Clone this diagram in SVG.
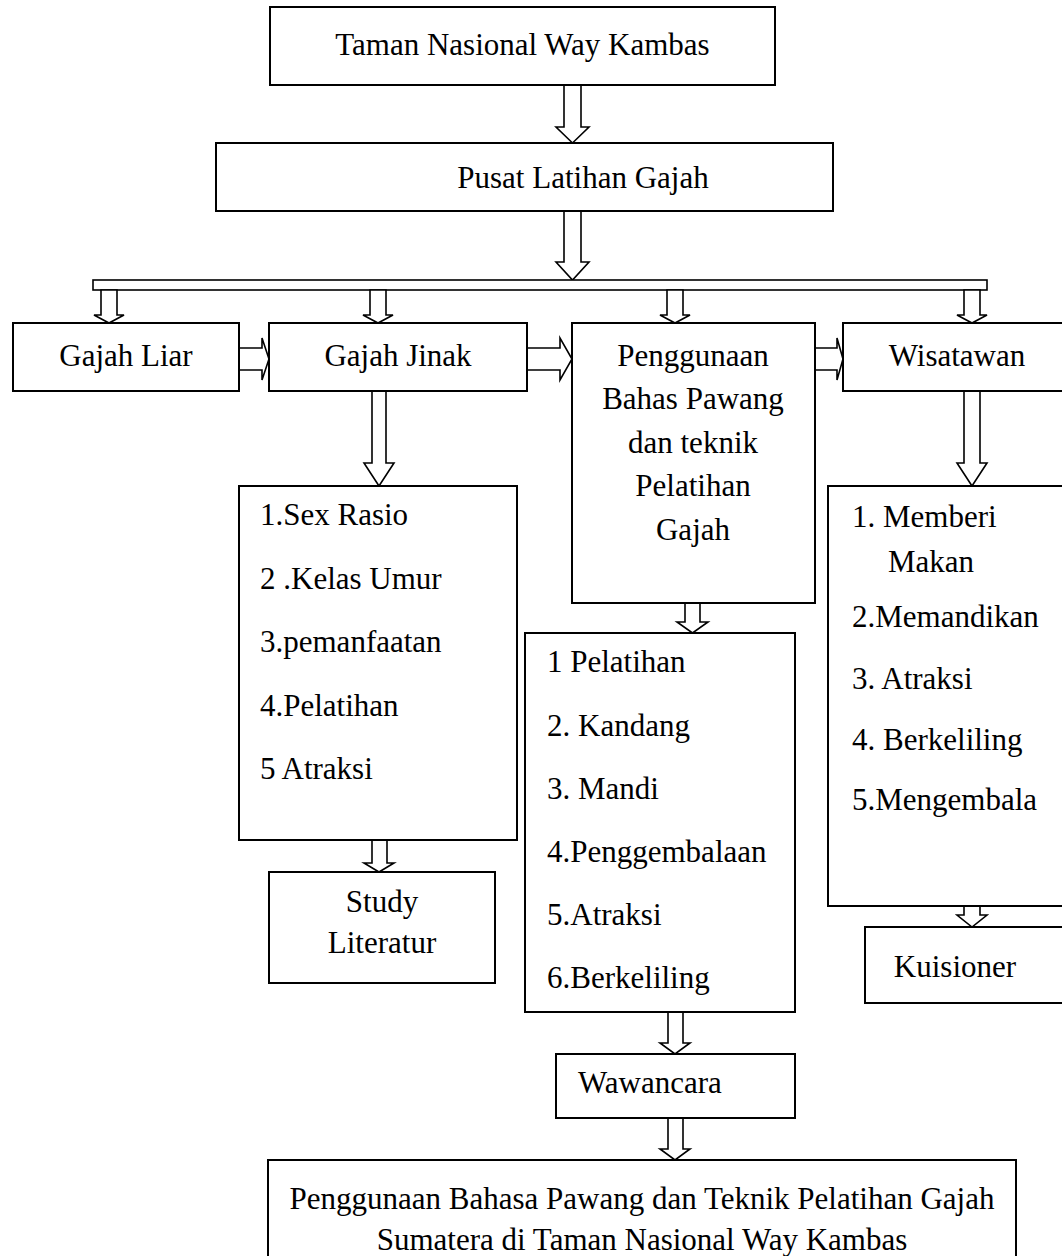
<svg xmlns="http://www.w3.org/2000/svg" width="1062" height="1256" viewBox="0 0 1062 1256">
<style>
.b{fill:#fff;stroke:#000;stroke-width:2}
.a{fill:#fff;stroke:#000;stroke-width:1.6;stroke-linejoin:miter}
text{font-family:"Liberation Serif","Times New Roman",serif;font-size:31px;fill:#000}
.c{text-anchor:middle}
</style>
<rect width="1062" height="1256" fill="#fff"/>
<g id="connectors">
<path class="a" d="M564,85 V127 H556 L572.5,143 L589,127 H581 V85 Z"/>
<path class="a" d="M564,211 V262 H556 L572.5,280 L589,262 H581 V211 Z"/>
<rect class="a" x="93" y="280" width="894" height="10"/>
<path class="a" d="M101,290 V315 H94 L109,323 L124,315 H117 V290 Z"/>
<path class="a" d="M370,290 V315 H363 L378,323 L393,315 H386 V290 Z"/>
<path class="a" d="M667,290 V315 H660 L675,323 L690,315 H683 V290 Z"/>
<path class="a" d="M964,290 V315 H957 L972,323 L987,315 H980 V290 Z"/>
<path class="a" d="M239,348 H262 V338 L269,359 L262,380 V370 H239 Z"/>
<path class="a" d="M527,348 H560 V338 L572,359 L560,380 V370 H527 Z"/>
<path class="a" d="M815,348 H837 V338 L843,359 L837,380 V370 H815 Z"/>
<path class="a" d="M372,391 V463 H364 L379,486 L394,463 H386 V391 Z"/>
<path class="a" d="M964,391 V463 H957 L972,486 L987,463 H980 V391 Z"/>
<path class="a" d="M372,840 V863 H364 L379,872 L394,863 H387 V840 Z"/>
<path class="a" d="M685,603 V622 H677 L692.5,633 L708,622 H700 V603 Z"/>
<path class="a" d="M668,1012 V1043 H660 L675,1054 L690,1043 H683 V1012 Z"/>
<path class="a" d="M668,1118 V1149 H660 L675,1160 L690,1149 H683 V1118 Z"/>
<path class="a" d="M964,906 V915 H957 L972,927 L987,915 H980 V906 Z"/>
</g>
<g id="n-top"><rect class="b" x="270" y="7" width="505" height="78"/><text class="c" x="522.5" y="55">Taman Nasional Way Kambas</text></g>
<g id="n-pusat"><rect class="b" x="216" y="143" width="617" height="68"/><text class="c" x="583" y="188">Pusat Latihan Gajah</text></g>
<g id="n-liar"><rect class="b" x="13" y="323" width="226" height="68"/><text class="c" x="126" y="366">Gajah Liar</text></g>
<g id="n-jinak"><rect class="b" x="269" y="323" width="258" height="68"/><text class="c" x="398" y="366">Gajah Jinak</text></g>
<g id="n-pengg"><rect class="b" x="572" y="323" width="243" height="280"/>
<text class="c" x="693" y="366">Penggunaan</text>
<text class="c" x="693" y="409">Bahas Pawang</text>
<text class="c" x="693" y="453">dan teknik</text>
<text class="c" x="693" y="496">Pelatihan</text>
<text class="c" x="693" y="540">Gajah</text></g>
<g id="n-wis"><rect class="b" x="843" y="323" width="230" height="68"/><text class="c" x="957" y="366">Wisatawan</text></g>
<g id="n-jinaklist"><rect class="b" x="239" y="486" width="278" height="354"/>
<text x="260" y="525">1.Sex Rasio</text>
<text x="260" y="589">2 .Kelas Umur</text>
<text x="260" y="652">3.pemanfaatan</text>
<text x="260" y="716">4.Pelatihan</text>
<text x="260" y="779">5 Atraksi</text></g>
<g id="n-study"><rect class="b" x="269" y="872" width="226" height="111"/>
<text class="c" x="382" y="912">Study</text>
<text class="c" x="382" y="953">Literatur</text></g>
<g id="n-list2"><rect class="b" x="525" y="633" width="270" height="379"/>
<text x="547" y="672">1 Pelatihan</text>
<text x="547" y="736">2. Kandang</text>
<text x="547" y="799">3. Mandi</text>
<text x="547" y="862">4.Penggembalaan</text>
<text x="547" y="925">5.Atraksi</text>
<text x="547" y="988">6.Berkeliling</text></g>
<g id="n-wawancara"><rect class="b" x="556" y="1054" width="239" height="64"/><text x="578" y="1093">Wawancara</text></g>
<g id="n-wislist"><rect class="b" x="828" y="486" width="245" height="420"/>
<text x="852" y="527">1. Memberi</text>
<text x="888" y="572">Makan</text>
<text x="852" y="627">2.Memandikan</text>
<text x="852" y="689">3. Atraksi</text>
<text x="852" y="750">4. Berkeliling</text>
<text x="852" y="810">5.Mengembala</text></g>
<g id="n-kuis"><rect class="b" x="865" y="927" width="208" height="76"/><text class="c" x="955" y="977">Kuisioner</text></g>
<g id="n-final"><rect class="b" x="268" y="1160" width="748" height="110"/>
<text class="c" x="642" y="1209">Penggunaan Bahasa Pawang dan Teknik Pelatihan Gajah</text>
<text class="c" x="642" y="1250">Sumatera di Taman Nasional Way Kambas</text></g>
</svg>
